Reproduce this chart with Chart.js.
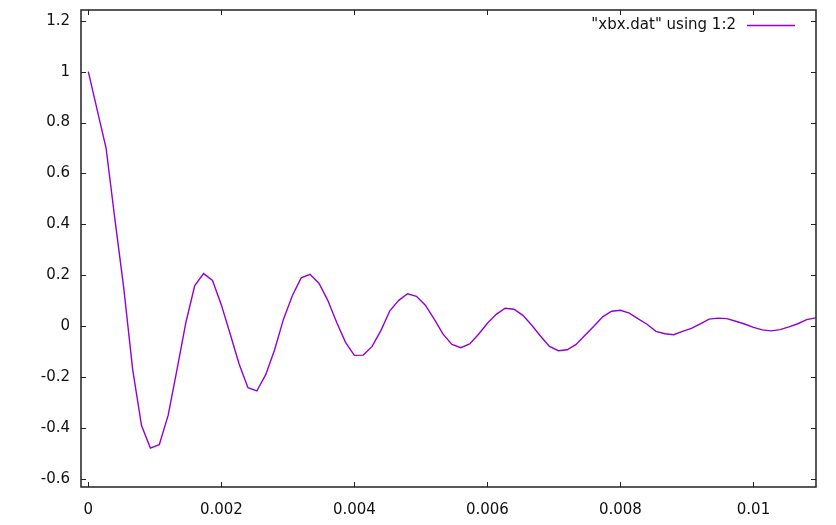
<!DOCTYPE html>
<html lang="en">
<head>
    <meta charset="UTF-8">
    <title>xbx.dat</title>
    <script src="https://cdn.jsdelivr.net/npm/chart.js"></script>
    <style>
        html, body { margin: 0; padding: 0; background: #fff; }
        #wrap { width: 836px; height: 525px; }
    </style>
</head>
<body>
    <div id="wrap"><canvas id="xbxChart"></canvas></div>

<script>
    // 時間 (x) 與數值 (y)
    const xValues = [
        0, 0.000133, 0.000267, 0.0004, 0.000533, 0.000667, 0.0008, 0.000933, 0.001067, 0.0012,
        0.001333, 0.001467, 0.0016, 0.001733, 0.001867, 0.002, 0.002133, 0.002267, 0.0024, 0.002533,
        0.002667, 0.0028, 0.002933, 0.003067, 0.0032, 0.003333, 0.003467, 0.0036, 0.003733, 0.003867,
        0.004, 0.004133, 0.004267, 0.0044, 0.004533, 0.004667, 0.0048, 0.004933, 0.005067, 0.0052,
        0.005333, 0.005467, 0.0056, 0.005733, 0.005867, 0.006, 0.006133, 0.006267, 0.0064, 0.006533,
        0.006667, 0.0068, 0.006933, 0.007067, 0.0072, 0.007333, 0.007467, 0.0076, 0.007733, 0.007867,
        0.008, 0.008133, 0.008267, 0.0084, 0.008533, 0.008667, 0.0088, 0.008933, 0.009067, 0.0092,
        0.009333, 0.009467, 0.0096, 0.009733, 0.009867, 0.01, 0.010133, 0.010267, 0.0104, 0.010533,
        0.010667, 0.0108, 0.010933
    ];
    const yValues = [
        1.0, 0.85, 0.70, 0.42, 0.15, -0.17, -0.39, -0.478, -0.465, -0.35,
        -0.17, 0.015, 0.16, 0.207, 0.18, 0.084, -0.03, -0.148, -0.241, -0.254,
        -0.19, -0.093, 0.027, 0.12, 0.19, 0.204, 0.169, 0.102, 0.016, -0.063,
        -0.114, -0.113, -0.079, -0.016, 0.061, 0.102, 0.128, 0.118, 0.083, 0.028,
        -0.031, -0.071, -0.084, -0.069, -0.031, 0.012, 0.047, 0.071, 0.067, 0.043,
        0.004, -0.039, -0.079, -0.096, -0.092, -0.071, -0.035, 0.0, 0.037, 0.059,
        0.063, 0.052, 0.029, 0.008, -0.02, -0.029, -0.033, -0.02, -0.008, 0.01,
        0.028, 0.032, 0.030, 0.02, 0.009, -0.004, -0.014, -0.018, -0.013, -0.002,
        0.01, 0.026, 0.033
    ];

    // 刻度
    const xTicks = [0, 0.002, 0.004, 0.006, 0.008, 0.01];
    const xTickLabels = ['0', '0.002', '0.004', '0.006', '0.008', '0.01'];
    const yTicks = [-0.6, -0.4, -0.2, 0, 0.2, 0.4, 0.6, 0.8, 1, 1.2];
    const yTickLabels = ['-0.6', '-0.4', '-0.2', '0', '0.2', '0.4', '0.6', '0.8', '1', '1.2'];

    const seriesLabel = '"xbx.dat" using 1:2';
    const lineColor = 'rgb(148, 0, 211)';
    const textColor = '#111';
    const font = { family: 'DejaVu Sans', size: 15 };

    const points = xValues.map((x, i) => ({ x: x, y: yValues[i] }));

    // gnuplot 風格: 外框、四邊向內刻度、右上角圖例
    const gnuplotFrame = {
        id: 'gnuplotFrame',
        afterDraw(chart) {
            const ctx = chart.ctx;
            const area = chart.chartArea;
            const xs = chart.scales.x;
            const ys = chart.scales.y;
            const tick = 5;
            ctx.save();
            ctx.strokeStyle = '#222';
            ctx.lineWidth = 1;
            ctx.beginPath();
            xTicks.forEach(v => {
                const px = Math.round(xs.getPixelForValue(v)) + 0.5;
                ctx.moveTo(px, area.bottom); ctx.lineTo(px, area.bottom - tick);
                ctx.moveTo(px, area.top); ctx.lineTo(px, area.top + tick);
            });
            yTicks.forEach(v => {
                const py = Math.round(ys.getPixelForValue(v)) + 0.5;
                ctx.moveTo(area.left, py); ctx.lineTo(area.left + tick, py);
                ctx.moveTo(area.right, py); ctx.lineTo(area.right - tick, py);
            });
            ctx.stroke();
            ctx.lineWidth = 1.5;
            ctx.strokeRect(area.left, area.top, area.right - area.left, area.bottom - area.top);

            // 圖例
            const ky = area.top + 15;
            ctx.font = font.size + 'px "' + font.family + '"';
            ctx.fillStyle = textColor;
            ctx.textAlign = 'right';
            ctx.textBaseline = 'middle';
            ctx.fillText(seriesLabel, area.right - 80, ky);
            ctx.strokeStyle = lineColor;
            ctx.lineWidth = 1.5;
            ctx.beginPath();
            ctx.moveTo(area.right - 69, ky + 0.5);
            ctx.lineTo(area.right - 21, ky + 0.5);
            ctx.stroke();
            ctx.restore();
        }
    };

    const ctx = document.getElementById('xbxChart').getContext('2d');
    new Chart(ctx, {
        type: 'line',
        data: {
            datasets: [
                {
                    label: seriesLabel,
                    data: points,
                    borderColor: lineColor,
                    backgroundColor: lineColor,
                    borderWidth: 1.4,
                    pointRadius: 0,
                    tension: 0,
                    fill: false
                }
            ]
        },
        options: {
            responsive: true,
            maintainAspectRatio: false,
            animation: false,
            layout: { padding: { top: 10, right: 20, left: 0, bottom: 0 } },
            plugins: {
                legend: { display: false },
                tooltip: { enabled: false }
            },
            scales: {
                x: {
                    type: 'linear',
                    min: -0.00011,
                    max: 0.01094,
                    afterFit: scale => {
                        scale.height = 38;
                        scale.paddingLeft = 0;
                        scale.paddingRight = 0;
                    },
                    afterBuildTicks: scale => { scale.ticks = xTicks.map(v => ({ value: v })); },
                    grid: { display: false, drawTicks: false },
                    border: { display: false },
                    ticks: {
                        padding: 14,
                        color: textColor,
                        font: font,
                        maxRotation: 0,
                        autoSkip: false,
                        callback: (v, i) => xTickLabels[i]
                    }
                },
                y: {
                    type: 'linear',
                    min: -0.631,
                    max: 1.242,
                    afterFit: scale => {
                        scale.width = 81;
                        scale.paddingTop = 0;
                        scale.paddingBottom = 0;
                    },
                    afterBuildTicks: scale => { scale.ticks = yTicks.map(v => ({ value: v })); },
                    grid: { display: false, drawTicks: false },
                    border: { display: false },
                    ticks: {
                        padding: 11,
                        color: textColor,
                        font: font,
                        autoSkip: false,
                        callback: (v, i) => yTickLabels[i]
                    }
                }
            }
        },
        plugins: [gnuplotFrame]
    });
</script>
</body>
</html>
